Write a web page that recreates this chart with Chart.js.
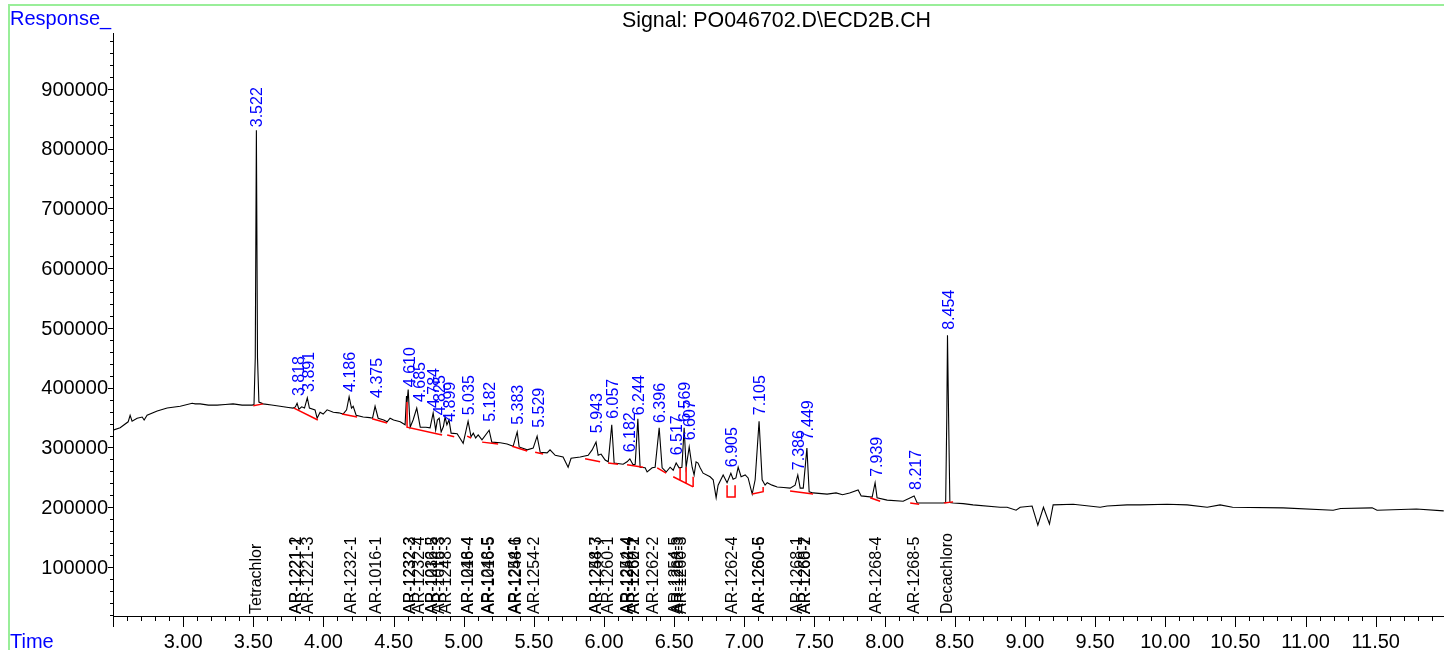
<!DOCTYPE html>
<html>
<head>
<meta charset="utf-8">
<title>Signal: PO046702.D\ECD2B.CH</title>
<script src="https://cdn.jsdelivr.net/npm/chart.js@4.4.1/dist/chart.umd.min.js"></script>
<style>
    html, body { margin: 0; padding: 0; background: #fff; }
    canvas { display: block; }
</style>
</head>
<body>
<canvas id="ecd-chart" width="1444" height="650"></canvas>
<script>
// detector trace: retention time (min) and response
const traceTime = [
    2.500, 2.551, 2.608, 2.622, 2.636, 2.672, 2.708, 2.722, 2.743, 2.815, 2.886, 2.979,
    3.064, 3.086, 3.121, 3.180, 3.242, 3.300, 3.356, 3.420, 3.492, 3.505, 3.514, 3.522,
    3.530, 3.540, 3.570, 3.630, 3.691, 3.750, 3.784, 3.800, 3.812, 3.825, 3.845, 3.865,
    3.885, 3.900, 3.940, 3.955, 3.976, 3.998, 4.026, 4.070, 4.110, 4.140, 4.165, 4.183,
    4.200, 4.212, 4.233, 4.283, 4.330, 4.350, 4.368, 4.390, 4.430, 4.454, 4.475, 4.500,
    4.547, 4.582, 4.592, 4.596, 4.604, 4.618, 4.639, 4.665, 4.690, 4.730, 4.760, 4.782,
    4.800, 4.812, 4.825, 4.839, 4.855, 4.867, 4.880, 4.895, 4.910, 4.953, 4.996, 5.031,
    5.052, 5.068, 5.085, 5.103, 5.130, 5.181, 5.200, 5.260, 5.309, 5.352, 5.381, 5.395,
    5.452, 5.495, 5.523, 5.545, 5.594, 5.615, 5.652, 5.708, 5.744, 5.765, 5.830, 5.887,
    5.915, 5.943, 5.958, 5.979, 6.008, 6.030, 6.055, 6.072, 6.136, 6.164, 6.184, 6.207,
    6.222, 6.241, 6.257, 6.293, 6.307, 6.343, 6.364, 6.393, 6.414, 6.443, 6.471, 6.493,
    6.514, 6.535, 6.555, 6.571, 6.585, 6.607, 6.628, 6.642, 6.656, 6.670, 6.685, 6.706,
    6.756, 6.778, 6.799, 6.813, 6.849, 6.877, 6.904, 6.920, 6.940, 6.956, 6.977, 7.006,
    7.027, 7.056, 7.077, 7.105, 7.127, 7.148, 7.163, 7.198, 7.234, 7.280, 7.326, 7.362,
    7.381, 7.398, 7.420, 7.446, 7.462, 7.490, 7.590, 7.654, 7.700, 7.750, 7.811, 7.833,
    7.911, 7.932, 7.946, 8.018, 8.132, 8.210, 8.232, 8.303, 8.417, 8.435, 8.443, 8.448,
    8.456, 8.465, 8.488, 8.560, 8.630, 8.823, 8.873, 8.937, 8.966, 9.051, 9.092, 9.132,
    9.175, 9.201, 9.344, 9.536, 9.586, 9.728, 9.821, 10.013, 10.156, 10.299, 10.391, 10.480,
    10.840, 11.197, 11.250, 11.475, 11.510, 11.790, 11.985
];
const traceResp = [
    329000, 333000, 343000, 354000, 344000, 349000, 351000, 346000, 354000, 361000, 366000, 369000,
    374000, 373000, 373000, 371000, 371000, 372000, 373000, 371000, 371000, 372000, 450000, 831000,
    450000, 376000, 373000, 371000, 369000, 367000, 366000, 368000, 374000, 364000, 368000, 366000,
    383000, 366000, 363000, 349000, 359000, 356000, 363000, 359000, 358000, 356000, 363000, 385000,
    366000, 369000, 354000, 351000, 350000, 349000, 369000, 349000, 346000, 343000, 349000, 346000,
    343000, 338000, 386000, 376000, 397000, 334000, 346000, 366000, 334000, 334000, 333000, 358000,
    329000, 346000, 349000, 326000, 335000, 351000, 338000, 346000, 324000, 323000, 307000, 344000,
    318000, 324000, 316000, 321000, 313000, 329000, 309000, 308000, 306000, 302000, 326000, 301000,
    296000, 299000, 319000, 292000, 291000, 296000, 287000, 284000, 267000, 282000, 284000, 287000,
    296000, 309000, 287000, 289000, 279000, 276000, 338000, 274000, 272000, 276000, 281000, 271000,
    272000, 348000, 267000, 266000, 259000, 266000, 267000, 333000, 266000, 259000, 267000, 262000,
    274000, 266000, 267000, 333000, 267000, 301000, 267000, 254000, 276000, 274000, 266000, 257000,
    251000, 246000, 216000, 237000, 254000, 241000, 257000, 247000, 249000, 267000, 251000, 254000,
    249000, 222000, 246000, 344000, 246000, 237000, 241000, 237000, 234000, 233000, 232000, 237000,
    254000, 232000, 232000, 299000, 226000, 224000, 222000, 224000, 221000, 224000, 229000, 219000,
    217000, 241000, 216000, 212000, 210000, 219000, 207000, 207000, 207000, 208000, 350000, 488000,
    350000, 208000, 207000, 206000, 204000, 200000, 200000, 195000, 200000, 202000, 170000, 200000,
    172000, 204000, 205000, 200000, 202000, 204000, 204000, 205000, 204000, 200000, 204000, 200000,
    199000, 195000, 198000, 199000, 195000, 197000, 194000
];

// integration baselines (red), one polyline per peak group
const baseSegments = [
    [[3.500, 370000], [3.570, 373000]],
    [[3.790, 366000], [3.960, 346000]],
    [[4.133, 356000], [4.240, 351000]],
    [[4.347, 348000], [4.454, 341000]],
    [[4.596, 376000], [4.596, 334000], [4.846, 321000]],
    [[4.882, 321000], [4.932, 318000]],
    [[5.024, 319000], [5.053, 316000]],
    [[5.131, 309000], [5.245, 306000]],
    [[5.345, 302000], [5.452, 294000]],
    [[5.509, 292000], [5.566, 289000]],
    [[5.865, 281000], [5.972, 276000]],
    [[6.029, 274000], [6.100, 272000]],
    [[6.164, 271000], [6.279, 267000]],
    [[6.379, 266000], [6.443, 257000]],
    [[6.493, 251000], [6.635, 234000]],
    [[6.542, 266000], [6.542, 245000]],
    [[6.585, 267000], [6.585, 240000]],
    [[6.635, 251000], [6.635, 234000]],
    [[6.877, 237000], [6.877, 217000], [6.934, 217000], [6.934, 237000]],
    [[7.056, 222000], [7.134, 226000], [7.134, 234000]],
    [[7.326, 227000], [7.490, 222000]],
    [[7.897, 216000], [7.968, 210000]],
    [[8.182, 207000], [8.246, 205000]],
    [[8.424, 207000], [8.488, 209000]]
];

// retention time labels (blue) and the response where each label starts
const peakLabels = ['3.522', '3.818', '3.891', '4.186', '4.375', '4.610', '4.685', '4.784', '4.825', '4.899',
    '5.035', '5.182', '5.383', '5.529', '5.943', '6.057', '6.182', '6.244', '6.396', '6.517',
    '6.569', '6.607', '6.905', '7.105', '7.386', '7.449', '7.939', '8.217', '8.454'];
const peakLabelResp = [836000, 386000, 393000, 393000, 383000, 401000, 376000, 366000, 354000, 343000,
    354000, 343000, 338000, 333000, 324000, 348000, 292000, 354000, 341000, 287000,
    343000, 312000, 267000, 354000, 262000, 312000, 251000, 229000, 497000];

// compound names along the time axis
const compoundNames = ['Tetrachlor', 'AR-1221-2', 'AR-1221-1', 'AR-1221-3', 'AR-1232-1', 'AR-1016-1',
    'AR-1232-2', 'AR-1232-3', 'AR-1232-4', 'AR-1232-5', 'AR-1016-2', 'AR-1016-3', 'AR-1248-3',
    'AR-1248-4', 'AR-1016-4', 'AR-1248-5', 'AR-1016-5', 'AR-1254-1', 'AR-1248-6', 'AR-1254-2',
    'AR-1254-3', 'AR-1248-7', 'AR-1260-1', 'AR-1254-4', 'AR-1242-4', 'AR-1260-2', 'AR-1262-1',
    'AR-1262-2', 'AR-1254-5', 'AR-1262-3', 'AR-1260-3', 'AR-1262-4', 'AR-1260-5', 'AR-1260-6',
    'AR-1268-1', 'AR-1268-2', 'AR-1260-7', 'AR-1268-4', 'AR-1268-5', 'Decachloro'];
const compoundTimes = [3.513, 3.798, 3.802, 3.887, 4.190, 4.368,
    4.608, 4.613, 4.675, 4.765, 4.770, 4.815, 4.867,
    5.022, 5.026, 5.168, 5.172, 5.361, 5.365, 5.498,
    5.935, 5.939, 6.022, 6.159, 6.163, 6.205, 6.209,
    6.343, 6.500, 6.520, 6.540, 6.906, 7.096, 7.100,
    7.369, 7.426, 7.430, 7.932, 8.203, 8.440];

const xTickLabels = ['3.00', '3.50', '4.00', '4.50', '5.00', '5.50', '6.00', '6.50', '7.00', '7.50',
    '8.00', '8.50', '9.00', '9.50', '10.00', '10.50', '11.00', '11.50'];
const yTickValues = [100000, 200000, 300000, 400000, 500000, 600000, 700000, 800000, 900000];

const FONT = 'Arial, "Liberation Sans", sans-serif';

let tracePts = traceTime.map((t, i) => ({ x: t, y: traceResp[i] }));
let basePts = [];
for (let seg of baseSegments) {
    for (let p of seg) basePts.push({ x: p[0], y: p[1] });
    basePts.push({ x: seg[seg.length - 1][0], y: null });
}

function vertText(ctx, txt, px, py, size) {
    ctx.save();
    ctx.translate(px, py);
    ctx.rotate(-Math.PI / 2);
    ctx.textAlign = 'left';
    ctx.textBaseline = 'alphabetic';
    ctx.fillText(txt, 0, size * 0.36);
    ctx.restore();
}

const decorations = {
    id: 'decorations',
    afterDraw(chart) {
        const ctx = chart.ctx;
        const xs = chart.scales.x, ys = chart.scales.y;
        const area = chart.chartArea;
        ctx.save();
        // light green frame
        ctx.strokeStyle = '#99ee99';
        ctx.lineWidth = 2;
        ctx.beginPath();
        ctx.moveTo(9, 650); ctx.lineTo(9, 5); ctx.lineTo(1444, 5);
        ctx.stroke();
        // major / minor tick marks
        ctx.strokeStyle = '#000';
        ctx.lineWidth = 1;
        ctx.beginPath();
        for (let i = 25; i <= 119; i++) {
            let px = Math.round(xs.getPixelForValue(i / 10)) + 0.5;
            let len = i % 5 === 0 ? 11 : 5;
            ctx.moveTo(px, area.bottom);
            ctx.lineTo(px, area.bottom + len);
        }
        for (let v = 20000; v < ys.max; v += 20000) {
            let py = Math.round(ys.getPixelForValue(v)) + 0.5;
            let len = v % 100000 === 0 ? 5 : 3;
            ctx.moveTo(area.left - len, py);
            ctx.lineTo(area.left, py);
        }
        ctx.stroke();
        // response tick labels
        ctx.fillStyle = '#000';
        ctx.font = '20px ' + FONT;
        ctx.textAlign = 'right';
        ctx.textBaseline = 'middle';
        for (let v of yTickValues) {
            ctx.fillText(String(v), area.left - 5, ys.getPixelForValue(v) + 1);
        }
        // header texts
        ctx.fillStyle = '#0000ff';
        ctx.font = '20px ' + FONT;
        ctx.textAlign = 'left';
        ctx.textBaseline = 'alphabetic';
        ctx.fillText('Response_', 10, 25);
        ctx.fillText('Time', 10, 648);
        ctx.fillStyle = '#000';
        ctx.font = '21.4px ' + FONT;
        ctx.textAlign = 'center';
        ctx.fillText('Signal: PO046702.D\\ECD2B.CH', (area.left + area.right) / 2 - 2, 27);
        // retention time labels
        ctx.fillStyle = '#0000ff';
        ctx.font = '16px ' + FONT;
        peakLabels.forEach((lab, i) => {
            vertText(ctx, lab, xs.getPixelForValue(parseFloat(lab)), ys.getPixelForValue(peakLabelResp[i]), 16);
        });
        // compound names
        ctx.fillStyle = '#000';
        compoundNames.forEach((name, i) => {
            vertText(ctx, name, xs.getPixelForValue(compoundTimes[i]), area.bottom - 2, 16);
        });
        ctx.restore();
    }
};

const chart = new Chart(document.getElementById('ecd-chart'), {
    type: 'line',
    data: {
        datasets: [
            {
                label: 'ECD2B',
                data: tracePts,
                borderColor: '#000000',
                borderWidth: 1.1,
                pointRadius: 0,
                tension: 0,
                order: 2
            },
            {
                label: 'Baseline',
                data: basePts,
                borderColor: '#ff0000',
                borderWidth: 1.5,
                pointRadius: 0,
                tension: 0,
                spanGaps: false,
                order: 1
            }
        ]
    },
    options: {
        responsive: false,
        animation: false,
        devicePixelRatio: 1,
        layout: { padding: { top: 33, left: 0, right: 0, bottom: 0 } },
        scales: {
            x: {
                type: 'linear',
                min: 2.5,
                max: 11.987,
                afterFit: (s) => { s.height = 34; },
                border: { color: '#000', width: 1 },
                grid: { drawOnChartArea: false, drawTicks: false },
                ticks: {
                    stepSize: 0.5,
                    includeBounds: false,
                    autoSkip: false,
                    maxRotation: 0,
                    padding: 14,
                    color: '#000',
                    font: { family: FONT, size: 20 },
                    callback: (v) => xTickLabels.includes(v.toFixed(2)) ? v.toFixed(2) : ''
                }
            },
            y: {
                type: 'linear',
                min: 18000,
                max: 993700,
                afterFit: (s) => { s.width = 113; },
                border: { color: '#000', width: 1 },
                grid: { drawOnChartArea: false, drawTicks: false },
                ticks: { display: false, stepSize: 100000 }
            }
        },
        plugins: {
            legend: { display: false },
            tooltip: { enabled: false },
            title: { display: false }
        }
    },
    plugins: [decorations]
});
</script>
</body>
</html>
